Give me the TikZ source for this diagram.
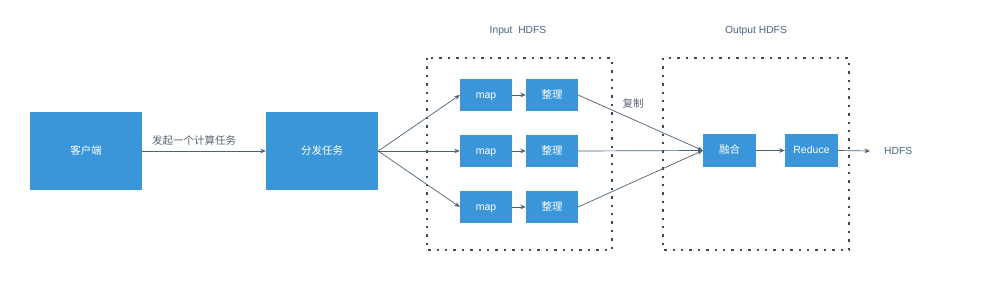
\documentclass[tikz,border=0pt]{standalone}
\usepackage{fontspec}
\setmainfont{Liberation Sans}
\newfontfamily\cjk{Noto Sans CJK SC}
\usetikzlibrary{arrows.meta}
\definecolor{boxblue}{HTML}{3A96D8}
\definecolor{linec}{HTML}{4F6275}
\definecolor{labc}{HTML}{5A6470}
\definecolor{titc}{HTML}{4A6580}
\tikzset{
  bigbox/.style={draw=none,fill=boxblue,minimum width=112pt,minimum height=78pt,inner sep=0pt,text=white,text height=0.8em,text depth=0.12em,font=\cjk\fontsize{10.5}{12}\selectfont},
  smallbox/.style={draw=none,fill=boxblue,minimum width=52pt,minimum height=32pt,inner sep=0pt,text=white,text height=0.8em,text depth=0.12em,font=\fontsize{10.5}{12}\selectfont},
  cjkbox/.style={smallbox,font=\cjk\fontsize{10.5}{12}\selectfont},
  conn/.style={draw=linec,line width=0.7pt,-{Stealth[length=5.5pt,width=4.5pt]}},
  region/.style={draw=linec!75!black,line width=1.6pt,dash pattern=on 2.4pt off 6pt},
  lab/.style={text=labc,font=\cjk\fontsize{10.5}{12}\selectfont,inner sep=1pt},
  tit/.style={text=titc,font=\fontsize{10.3}{12}\selectfont,inner sep=1pt}
}
\begin{document}
\begin{tikzpicture}[x=1pt,y=-1pt]
\useasboundingbox[fill=white] (0,0) rectangle (1006,300);
% regions
\draw[region] (427,58) rectangle (612,250);
\draw[region] (663,58) rectangle (849,250);
\node[tit] (tin) at (518,31) {Input\ \ HDFS};
\node[tit] (tout) at (756,31) {Output HDFS};
% main boxes
\node[bigbox] (client) at (86,151) {客户端};
\node[bigbox] (dist) at (322,151) {分发任务};
\node[smallbox] (m1) at (486,95) {map};
\node[smallbox] (m2) at (486,151) {map};
\node[smallbox] (m3) at (486,207) {map};
\node[cjkbox] (z1) at (552,95) {整理};
\node[cjkbox] (z2) at (552,151) {整理};
\node[cjkbox] (z3) at (552,207) {整理};
\node[cjkbox,minimum width=53pt,minimum height=33pt] (merge) at (729.5,150.5) {融合};
\node[smallbox,minimum width=53pt,minimum height=33pt] (red) at (811.5,150.5) {Reduce};
\node[text=titc,font=\fontsize{10.3}{12}\selectfont,anchor=west,inner sep=1pt] (hdfs) at (883,151) {HDFS};
\coordinate (hend) at (870,151);
% connectors
\draw[conn] (client.east) -- node[lab,above=4pt,pos=0.42] {发起一个计算任务} (dist.west);
\draw[conn] (dist.east) -- (m1.west);
\draw[conn] (dist.east) -- (m2.west);
\draw[conn] (dist.east) -- (m3.west);
\draw[conn] (m1) -- (z1);
\draw[conn] (m2) -- (z2);
\draw[conn] (m3) -- (z3);
\draw[conn] (z1.east) -- (merge.west);
\draw[conn] (z2.east) -- (merge.west);
\draw[conn] (z3.east) -- (merge.west);
\node[lab] (copy) at (633,104) {复制};
\draw[conn] (merge) -- (red);
\draw[conn] (red.east) -- (hend);
\end{tikzpicture}
\end{document}
